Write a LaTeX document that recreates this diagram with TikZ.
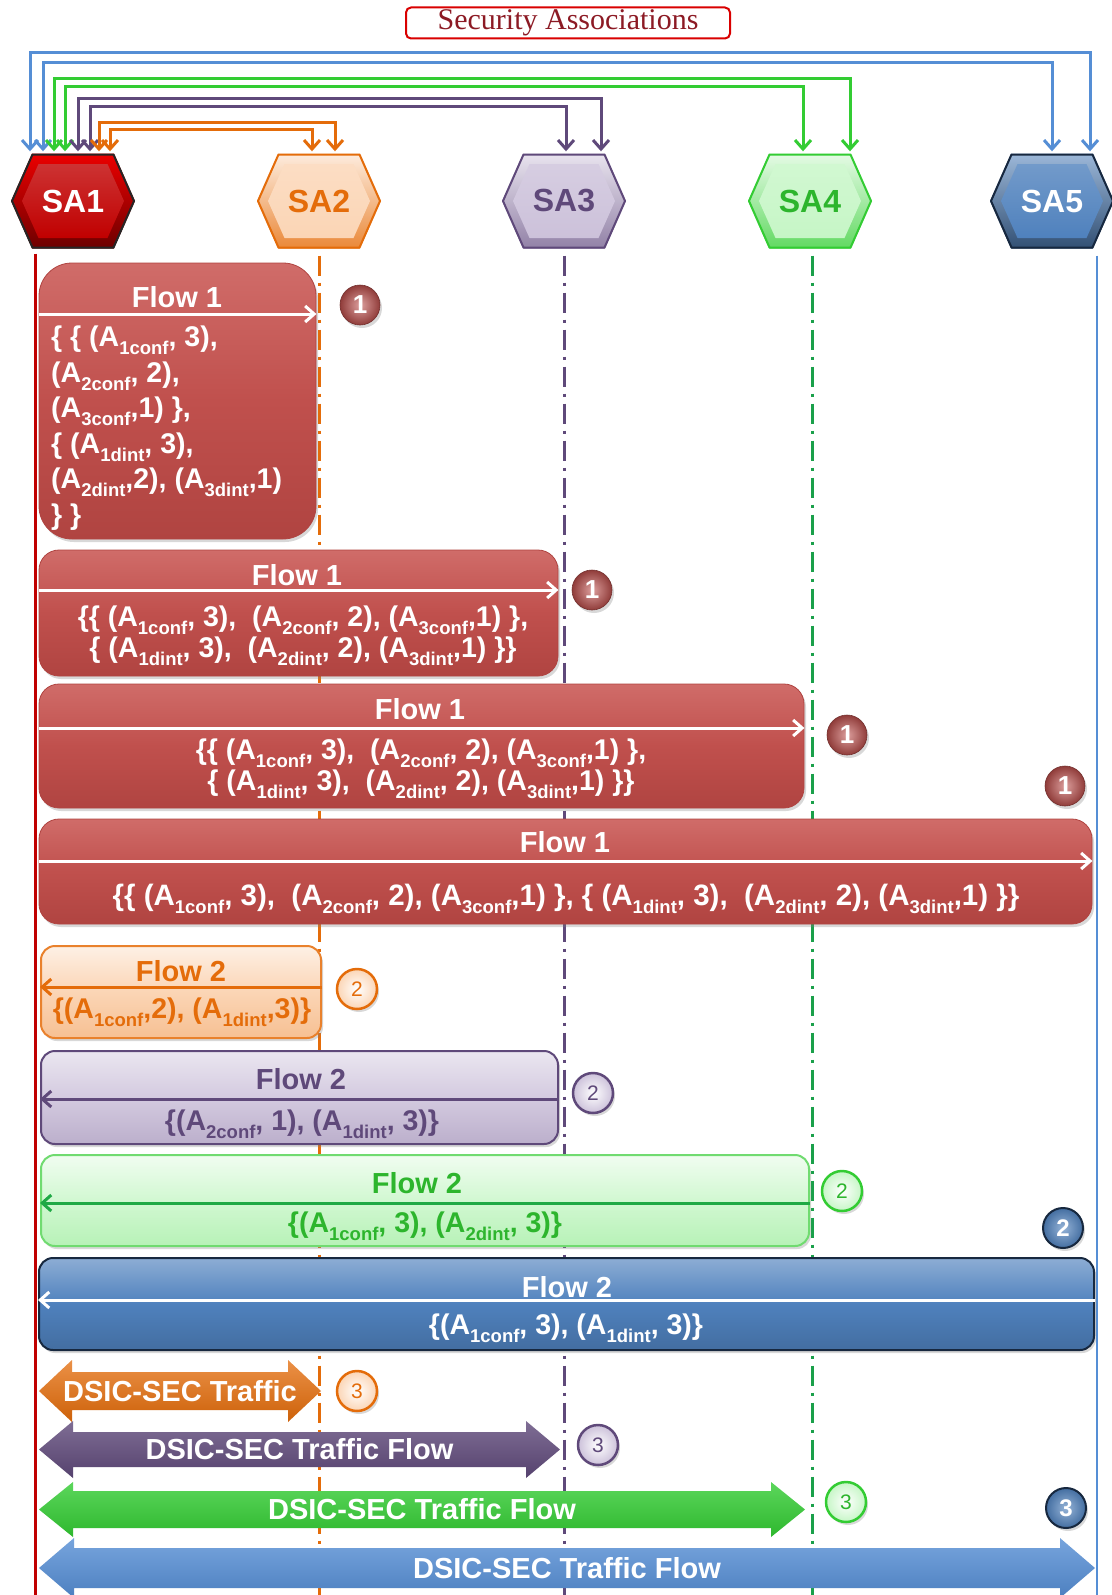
\documentclass[tikz,border=0pt]{standalone}
\usepackage{fontspec}
\setmainfont{Liberation Sans}
\newfontfamily\titleserif{Liberation Serif}
\usetikzlibrary{arrows.meta,shadows}

% palette
\definecolor{saRed}{HTML}{C00000}
\definecolor{flowRed}{HTML}{C0504D}
\definecolor{flowRedTop}{HTML}{D06C69}
\definecolor{flowRedBot}{HTML}{B04441}
\definecolor{orMain}{HTML}{E46C0A}
\definecolor{orLight}{HTML}{FBD5B5}
\definecolor{puMain}{HTML}{5F497A}
\definecolor{puLight}{HTML}{CCC1DA}
\definecolor{grMain}{HTML}{33CC33}
\definecolor{grText}{HTML}{2DB52D}
\definecolor{grLine}{HTML}{1AA04A}
\definecolor{grLight}{HTML}{C6F6C6}
\definecolor{blMain}{HTML}{4F81BD}
\definecolor{blLine}{HTML}{558ED5}
\definecolor{blDark}{HTML}{17283F}
\definecolor{titleRed}{HTML}{8C1A24}

% attribute with a lowered index
\newcommand\Asub[1]{A\raisebox{-0.27em}{\fontsize{18.5}{18.5}\selectfont #1}}

% hexagon outline around the centre of a node: half width, half height, inset
\newcommand\hexoutline[3]{%
  ([shift={(-#1,0pt)}]path picture bounding box.center)
  -- ([shift={({-#1+#3},#2)}]path picture bounding box.center)
  -- ([shift={({#1-#3},#2)}]path picture bounding box.center)
  -- ([shift={(#1,0pt)}]path picture bounding box.center)
  -- ([shift={({#1-#3},-#2)}]path picture bounding box.center)
  -- ([shift={({-#1+#3},-#2)}]path picture bounding box.center)
  -- cycle}

% double-headed block arrow filling a node: head length, shaft inset
\newcommand\dblarrow[2]{%
  (path picture bounding box.west)
  -- ([xshift=#1]path picture bounding box.north west)
  -- ([shift={(#1,-#2)}]path picture bounding box.north west)
  -- ([shift={(-#1,-#2)}]path picture bounding box.north east)
  -- ([xshift=-#1]path picture bounding box.north east)
  -- (path picture bounding box.east)
  -- ([xshift=-#1]path picture bounding box.south east)
  -- ([shift={(-#1,#2)}]path picture bounding box.south east)
  -- ([shift={(#1,#2)}]path picture bounding box.south west)
  -- ([xshift=#1]path picture bounding box.south west)
  -- cycle}

\tikzset{
  hexa/.style n args={5}{%
    minimum width=128pt, minimum height=99pt, inner sep=0pt,
    text=#5, font=\fontsize{32}{32}\selectfont\bfseries,
    path picture={
      \shade[top color=#1, bottom color=#2] \hexoutline{62pt}{47.5pt}{21pt};
      \shade[top color=#3!80!white, bottom color=#3] \hexoutline{51pt}{37pt}{16.5pt};
      \draw[#4, line width=2pt, line join=round] \hexoutline{61pt}{46.5pt}{20.5pt};
    }},
  conn/.style={draw=#1, line width=3pt,
    {Straight Barb[length=9pt,width=16pt]}-{Straight Barb[length=9pt,width=16pt]}},
  lifeline/.style={draw=#1, line width=3pt},
  dashline/.style={draw=#1, line width=3pt, dash pattern=on 20pt off 7pt on 3pt off 7pt},
  shadowed/.style={drop shadow={shadow xshift=2pt, shadow yshift=-3pt, opacity=0.3}},
  flowred/.style n args={3}{rounded corners=#3, minimum width=#1, minimum height=#2,
    draw=flowRedBot, line width=0.8pt,
    top color=flowRedTop, bottom color=flowRedBot, middle color=flowRed, shadowed},
  flowlight/.style n args={6}{rounded corners=14pt, minimum width=#1, minimum height=#2,
    draw=#3, line width=2pt, top color=#4, bottom color=#5, middle color=#6, shadowed},
  ftitle/.style={text=#1, font=\fontsize{29}{29}\selectfont\bfseries, inner sep=0pt},
  fdata/.style={text=#1, font=\fontsize{28.5}{31}\selectfont\bfseries, inner sep=0pt, align=center},
  farrow/.style={draw=#1, line width=3pt, -{Straight Barb[length=9pt,width=16pt]}},
  dsic/.style n args={6}{minimum width=#1, minimum height=#2, inner sep=0pt,
    text=white, font=\fontsize{29}{29}\selectfont\bfseries,
    path picture={\shade[top color=#5, bottom color=#6] \dblarrow{#3}{#4};}},
  redbadge/.style={circle, minimum size=40pt, inner sep=0pt,
    inner color=flowRed!55!white, outer color=flowRed!75!black,
    draw=flowRed!60!black, line width=0.6pt,
    text=white, font=\fontsize{26}{26}\selectfont\bfseries, shadowed},
  bluebadge/.style={circle, minimum size=40pt, inner sep=0pt,
    inner color=blMain!60!white, outer color=blMain!85!black,
    draw=blDark, line width=2pt, text=white, font=\fontsize{24}{24}\selectfont\bfseries, shadowed},
  lightbadge/.style 2 args={circle, minimum size=40pt, inner sep=0pt, draw=#1, line width=2.5pt,
    inner color=white, outer color=#2, text=#1, font=\fontsize{21}{21}\selectfont, shadowed},
}

\begin{document}
\begin{tikzpicture}[x=1pt, y=-1pt]
\useasboundingbox (0,0) rectangle (1111,1595);
\fill[white] (0,0) rectangle (1111,1595);

% heading
\node[draw=red!85!black, line width=2pt, rounded corners=5pt, minimum width=324pt,
      minimum height=31pt, inner sep=0pt, text=titleRed,
      font=\titleserif\fontsize{30}{30}\selectfont] (title) at (568,23) {Security Associations};

% security associations
\node[hexa={red!75!saRed}{saRed!55!black}{saRed}{black!85}{white}] (sa1) at (73,201) {SA1};
\node[hexa={orLight!40!white}{orMain!75!orLight}{orLight}{orMain}{orMain}] (sa2) at (319,201) {SA2};
\node[hexa={puLight!40!white}{puMain!55!puLight}{puLight}{puMain}{puMain}] (sa3) at (564,201) {SA3};
\node[hexa={grLight!40!white}{grMain!70!grLight}{grLight}{grMain}{grText}] (sa4) at (810,201) {SA4};
\node[hexa={blMain!55!white}{blMain!60!black}{blMain}{blDark}{white}] (sa5) at (1052,201) {SA5};

% lifelines
\coordinate (bot) at (0,1595);
\coordinate (l1) at ([shift={(-38pt,-3pt)}]sa1.south);
\coordinate (l2) at ([yshift=-5pt]sa2.south);
\coordinate (l3) at ([yshift=-5pt]sa3.south);
\coordinate (l4) at ([shift={(2pt,-5pt)}]sa4.south);
\coordinate (l5) at ([shift={(45pt,-5pt)}]sa5.south);
\draw[lifeline=saRed] (l1) -- (l1 |- bot);
\draw[dashline=orMain] (l2) -- (l2 |- bot);
\draw[dashline=puMain] (l3) -- (l3 |- bot);
\draw[dashline=grLine] (l4) -- (l4 |- bot);
\draw[lifeline=blLine, line width=2.5pt] (l5) -- (l5 |- bot);

% pairwise associations from SA1
\draw[conn=blLine]  ([xshift=-43pt]sa1.north) -- ++(0,-98.5) -| ([xshift=38pt]sa5.north);
\draw[conn=blLine]  ([xshift=-30pt]sa1.north) -- ++(0,-88.5) -| (sa5.north);
\draw[conn=grMain]  ([xshift=-19pt]sa1.north) -- ++(0,-72.5) -| ([xshift=40pt]sa4.north);
\draw[conn=grMain]  ([xshift=-8pt]sa1.north)  -- ++(0,-64.5) -| ([xshift=-7pt]sa4.north);
\draw[conn=puMain]  ([xshift=5pt]sa1.north)   -- ++(0,-52.5) -| ([xshift=37pt]sa3.north);
\draw[conn=puMain]  ([xshift=17pt]sa1.north)  -- ++(0,-44.5) -| ([xshift=2pt]sa3.north);
\draw[conn=orMain]  ([xshift=26pt]sa1.north)  -- ++(0,-28.5) -| ([xshift=16pt]sa2.north);
\draw[conn=orMain]  ([xshift=37pt]sa1.north)  -- ++(0,-21.5) -| ([xshift=-7pt]sa2.north);

% ---- Flow 1 ----
\node[flowred={277pt}{276pt}{33pt}] (f1a) at (177.5,401) {};
\node[ftitle=white] (t1a) at (177,297) {Flow 1};
\coordinate (y1a) at (0,314);
\draw[farrow=white] (f1a.west |- y1a) -- (f1a.east |- y1a);
\node[fdata=white, align=left, anchor=north west, font=\fontsize{28.5}{35.5}\selectfont\bfseries]
  (d1a) at (51,326) {\{ \{ (\Asub{1conf}, 3),\\(\Asub{2conf}, 2),\\(\Asub{3conf},1) \},\\
  \{ (\Asub{1dint}, 3),\\(\Asub{2dint},2), (\Asub{3dint},1)\\\} \}};

\node[flowred={519pt}{126pt}{20pt}] (f1b) at (298.5,613) {};
\node[ftitle=white] (t1b) at (297,575) {Flow 1};
\coordinate (y1b) at (0,590);
\draw[farrow=white] (f1b.west |- y1b) -- (f1b.east |- y1b);
\node[fdata=white] (d1b) at (303,636)
  {\{\{ (\Asub{1conf}, 3), \ (\Asub{2conf}, 2), (\Asub{3conf},1) \},\\
   \{ (\Asub{1dint}, 3), \ (\Asub{2dint}, 2), (\Asub{3dint},1) \}\}};

\node[flowred={765pt}{124pt}{20pt}] (f1c) at (421.5,746) {};
\node[ftitle=white] (t1c) at (420,709) {Flow 1};
\coordinate (y1c) at (0,728);
\draw[farrow=white] (f1c.west |- y1c) -- (f1c.east |- y1c);
\node[fdata=white] (d1c) at (421,769)
  {\{\{ (\Asub{1conf}, 3), \ (\Asub{2conf}, 2), (\Asub{3conf},1) \},\\
   \{ (\Asub{1dint}, 3), \ (\Asub{2dint}, 2), (\Asub{3dint},1) \}\}};

\node[flowred={1053pt}{105pt}{20pt}] (f1d) at (565.5,871.5) {};
\node[ftitle=white] (t1d) at (565,842) {Flow 1};
\coordinate (y1d) at (0,861);
\draw[farrow=white] (f1d.west |- y1d) -- (f1d.east |- y1d);
\node[fdata=white, font=\fontsize{29.5}{31}\selectfont\bfseries] (d1d) at (566,899)
  {\{\{ (\Asub{1conf}, 3), \ (\Asub{2conf}, 2), (\Asub{3conf},1) \}, \{ (\Asub{1dint}, 3), \ (\Asub{2dint}, 2), (\Asub{3dint},1) \}\}};

% ---- Flow 2 ----
\node[flowlight={280pt}{92pt}{orMain!80!orLight}{orLight!35!white}{orLight!80!orMain}{orLight}] (f2a) at (181,992) {};
\node[ftitle=orMain] (t2a) at (181,971) {Flow 2};
\coordinate (y2a) at (0,987);
\draw[farrow=orMain] (f2a.east |- y2a) -- (f2a.west |- y2a);
\node[fdata=orMain] (d2a) at (182,1012) {\{(\Asub{1conf},2), (\Asub{1dint},3)\}};

\node[flowlight={517pt}{93pt}{puMain}{puLight!40!white}{puLight!85!puMain}{puLight!85!white}] (f2b) at (299.5,1097.5) {};
\node[ftitle=puMain] (t2b) at (301,1079) {Flow 2};
\coordinate (y2b) at (0,1099);
\draw[farrow=puMain] (f2b.east |- y2b) -- (f2b.west |- y2b);
\node[fdata=puMain] (d2b) at (302,1124) {\{(\Asub{2conf}, 1), (\Asub{1dint}, 3)\}};

\node[flowlight={768pt}{91pt}{grMain!70!white}{grLight!25!white}{grLight!90!grMain}{grLight!80!white}] (f2c) at (425,1200.5) {};
\node[ftitle=grText] (t2c) at (417,1183) {Flow 2};
\coordinate (y2c) at (0,1203);
\draw[farrow=grLine!80!grMain] (f2c.east |- y2c) -- (f2c.west |- y2c);
\node[fdata=grText] (d2c) at (425,1226) {\{(\Asub{1conf}, 3), (\Asub{2dint}, 3)\}};

\node[flowlight={1055pt}{92pt}{blDark}{blMain!65!white}{blMain!85!black}{blMain}] (f2d) at (566.5,1304) {};
\node[ftitle=white] (t2d) at (567,1287) {Flow 2};
\coordinate (y2d) at (0,1300);
\draw[farrow=white] (f2d.east |- y2d) -- (f2d.west |- y2d);
\node[fdata=white] (d2d) at (566,1328) {\{(\Asub{1conf}, 3), (\Asub{1dint}, 3)\}};

% ---- protected traffic ----
\node[dsic={282pt}{62pt}{33pt}{12pt}{orMain!75!white}{orMain!90!black}] (tr2) at (180,1391) {DSIC-SEC Traffic};
\node[dsic={521pt}{57pt}{34pt}{11pt}{puMain!80!white}{puMain!90!black}] (tr3) at (299.5,1449.5) {DSIC-SEC Traffic Flow};
\node[dsic={766pt}{55pt}{34pt}{9pt}{grMain!80!white}{grMain!90!black}] (tr4) at (422,1509.5) {DSIC-SEC Traffic Flow};
\node[dsic={1056pt}{60pt}{35pt}{10pt}{blLine!80!white}{blLine!90!black}] (tr5) at (567,1568) {DSIC-SEC Traffic Flow};

% ---- step markers ----
\node[redbadge] (b1a) at (360,305) {1};
\node[redbadge] (b1b) at (592,590) {1};
\node[redbadge] (b1c) at (847,735) {1};
\node[redbadge] (b1d) at (1065,786) {1};
\node[lightbadge={orMain}{orLight}] (b2a) at (357,989) {2};
\node[lightbadge={puMain}{puLight}] (b2b) at (593,1093) {2};
\node[lightbadge={grMain}{grLight}, text=grText] (b2c) at (842,1191) {2};
\node[bluebadge] (b2d) at (1063,1228) {2};
\node[lightbadge={orMain}{orLight}] (b3a) at (357,1391) {3};
\node[lightbadge={puMain}{puLight}] (b3b) at (598,1445) {3};
\node[lightbadge={grMain}{grLight}, text=grText] (b3c) at (846,1502) {3};
\node[bluebadge] (b3d) at (1066,1508) {3};
\end{tikzpicture}
\end{document}
